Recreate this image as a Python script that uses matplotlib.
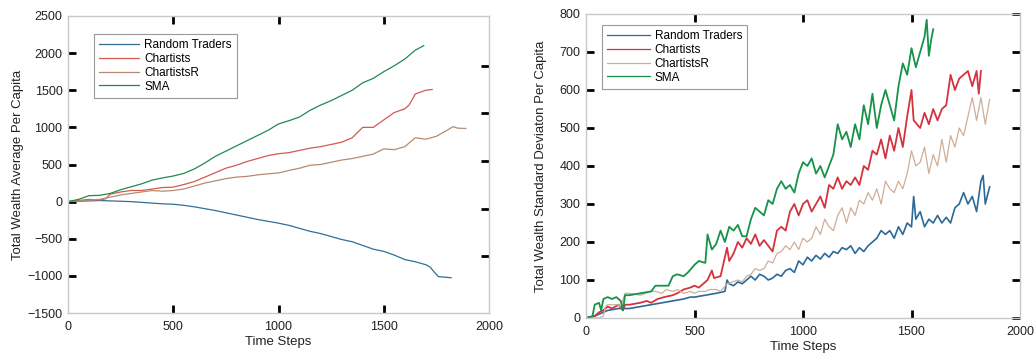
import matplotlib
matplotlib.use("Agg")
import matplotlib.pyplot as plt

plt.rcParams['font.family'] = ['Liberation Sans', 'DejaVu Sans']

# ---------------- data: left panel (average wealth) ----------------
sma_avg_x = [0, 50, 100, 150, 200, 250, 300, 350, 400, 450, 500, 550, 600, 650, 700, 750, 800, 850, 900, 950,
             1000, 1050, 1100, 1150, 1200, 1250, 1300, 1350, 1400, 1450, 1500, 1550, 1600, 1650, 1690]
sma_avg_y = [0, 30, 80, 85, 110, 160, 200, 240, 290, 320, 345, 380, 440, 520, 610, 680, 750, 820, 890, 960,
             1046, 1090, 1140, 1230, 1300, 1360, 1430, 1500, 1600, 1660, 1750, 1830, 1920, 2040, 2100]

chart_avg_x = [0, 100, 150, 180, 200, 250, 300, 350, 400, 450, 500, 550, 600, 650, 700, 750, 800, 850, 900, 950,
               1000, 1050, 1100, 1150, 1200, 1250, 1300, 1350, 1400, 1450, 1500, 1550, 1600, 1620, 1650, 1680, 1700, 1730]
chart_avg_y = [0, 30, 20, 40, 100, 130, 150, 150, 170, 190, 195, 230, 270, 330, 390, 450, 490, 540, 580, 620,
               645, 660, 690, 720, 740, 770, 800, 860, 1000, 1000, 1100, 1200, 1250, 1300, 1450, 1480, 1500, 1510]

chartr_avg_x = [0, 100, 150, 200, 250, 300, 350, 400, 450, 500, 550, 600, 650, 700, 750, 800, 850, 900, 950,
                1000, 1050, 1100, 1150, 1200, 1250, 1300, 1350, 1400, 1450, 1500, 1550, 1600, 1650, 1700, 1750,
                1800, 1830, 1850, 1890]
chartr_avg_y = [0, 20, 30, 60, 90, 110, 130, 150, 140, 150, 170, 210, 250, 280, 310, 330, 340, 360, 375,
                386, 420, 450, 490, 500, 530, 560, 580, 610, 640, 710, 700, 740, 860, 840, 880,
                960, 1010, 990, 985]

rand_avg_x = [0, 50, 100, 150, 200, 250, 300, 350, 400, 450, 500, 550, 600, 650, 700, 750, 800, 850, 900, 950,
              1000, 1050, 1100, 1150, 1200, 1250, 1300, 1350, 1400, 1450, 1500, 1550, 1600, 1650, 1700, 1720,
              1740, 1760, 1800, 1820]
rand_avg_y = [0, 5, 10, 15, 10, 5, 0, -10, -20, -30, -35, -50, -70, -95, -120, -150, -180, -210, -240, -265,
              -290, -320, -360, -400, -430, -470, -510, -540, -590, -640, -670, -720, -780, -810, -850, -880,
              -950, -1010, -1020, -1025]

# ---------------- data: right panel (standard deviation) ----------------
sma_sd_x = [0, 30, 40, 60, 70, 80, 100, 120, 140, 160, 170, 180, 200, 250, 300, 320, 350, 380, 400, 420,
            450, 470, 500, 520, 550, 560, 580, 600, 620, 640, 660, 680, 700, 720, 740, 760, 780, 800, 820, 840,
            860, 880, 900, 920, 940, 960, 980, 1000, 1020, 1040, 1060, 1080, 1100, 1120, 1140, 1160, 1180, 1200,
            1220, 1240, 1260, 1280, 1300, 1320, 1340, 1360, 1380, 1400, 1420, 1440, 1460, 1480, 1500, 1520,
            1540, 1560, 1570, 1580, 1590, 1600]
sma_sd_y = [0, 5, 35, 40, 20, 50, 55, 50, 55, 45, 20, 60, 60, 65, 70, 85, 85, 85, 110, 115,
            110, 120, 140, 150, 145, 220, 180, 195, 230, 200, 240, 230, 245, 215, 215, 260, 290, 280, 270, 310,
            300, 340, 360, 340, 350, 330, 380, 410, 400, 420, 380, 400, 370, 400, 430, 510, 470, 490,
            450, 510, 470, 560, 510, 590, 500, 560, 600, 560, 520, 610, 670, 640, 710, 660,
            700, 740, 785, 690, 730, 760]

chart_sd_x = [0, 40, 60, 80, 100, 120, 150, 170, 180, 200, 250, 280, 300, 330, 360, 400, 420, 450, 480, 500,
              520, 540, 560, 580, 590, 620, 640, 650, 660, 680, 700, 720, 740, 760, 780, 800, 820, 840, 860, 880,
              900, 920, 940, 960, 980, 1000, 1020, 1040, 1060, 1080, 1100, 1120, 1140, 1160, 1180, 1200, 1220,
              1240, 1260, 1280, 1300, 1320, 1340, 1360, 1380, 1400, 1420, 1440, 1460, 1480, 1500, 1510, 1540,
              1560, 1580, 1600, 1620, 1640, 1660, 1680, 1700, 1720, 1740, 1760, 1780, 1800, 1810, 1820]
chart_sd_y = [0, 5, 15, 20, 30, 25, 35, 20, 35, 35, 40, 45, 40, 50, 55, 60, 65, 75, 80, 85,
              80, 90, 100, 125, 105, 110, 160, 185, 150, 170, 200, 185, 210, 195, 220, 190, 205, 190, 175, 230,
              240, 230, 280, 300, 270, 300, 310, 280, 300, 320, 290, 350, 340, 370, 340, 360, 350,
              370, 350, 400, 390, 440, 430, 470, 420, 480, 440, 500, 450, 530, 600, 520, 500,
              540, 510, 550, 520, 550, 560, 640, 600, 630, 640, 650, 610, 650, 590, 650]

chartr_sd_x = [0, 60, 80, 90, 100, 150, 160, 180, 200, 250, 300, 320, 350, 370, 400, 420, 450, 480, 500, 520,
               550, 570, 600, 620, 650, 700, 720, 740, 760, 780, 800, 820, 840, 860, 880, 900, 920, 940, 960, 980,
               1000, 1020, 1040, 1060, 1080, 1100, 1120, 1140, 1160, 1180, 1200, 1220, 1240, 1260, 1280, 1300,
               1320, 1340, 1360, 1380, 1400, 1420, 1440, 1460, 1480, 1500, 1520, 1540, 1560, 1580, 1600, 1620,
               1640, 1660, 1680, 1700, 1720, 1740, 1760, 1780, 1800, 1820, 1840, 1860]
chartr_sd_y = [0, 0, 5, 30, 35, 35, 30, 65, 65, 60, 70, 70, 65, 75, 70, 75, 65, 70, 65, 70,
               70, 75, 75, 70, 90, 100, 95, 110, 115, 130, 125, 130, 150, 145, 170, 175, 190, 180, 200, 180,
               210, 200, 210, 240, 220, 260, 240, 230, 270, 290, 250, 290, 270, 310, 300, 330,
               310, 340, 300, 360, 340, 330, 360, 340, 380, 440, 400, 410, 450, 380, 430, 400,
               470, 410, 480, 450, 500, 480, 530, 580, 520, 580, 510, 575]

rand_sd_x = [0, 40, 80, 100, 150, 200, 250, 300, 350, 400, 450, 480, 500, 550, 600, 640, 650, 660, 680, 700,
             720, 740, 760, 780, 800, 820, 840, 860, 880, 900, 920, 940, 960, 980, 1000, 1020, 1040, 1060, 1080,
             1100, 1120, 1140, 1160, 1180, 1200, 1220, 1240, 1260, 1280, 1300, 1320, 1340, 1360, 1380, 1400,
             1420, 1440, 1460, 1480, 1500, 1510, 1520, 1540, 1560, 1580, 1600, 1620, 1640, 1660, 1680, 1700,
             1720, 1740, 1760, 1780, 1800, 1820, 1830, 1840, 1860]
rand_sd_y = [0, 5, 15, 20, 25, 25, 30, 35, 40, 45, 50, 55, 55, 60, 65, 70, 100, 90, 85, 95,
             90, 100, 110, 100, 115, 110, 100, 105, 115, 110, 125, 130, 120, 150, 140, 160, 150, 165, 155,
             170, 160, 175, 170, 185, 180, 190, 170, 185, 175, 190, 200, 210, 230, 220, 230,
             210, 240, 220, 250, 240, 320, 260, 280, 240, 260, 250, 270, 250, 265, 250, 290,
             300, 330, 300, 320, 280, 360, 375, 300, 345]

labels = ['Random Traders', 'Chartists', 'ChartistsR', 'SMA']
x_ticks = [0, 500, 1000, 1500, 2000]
left_yticks = [-1500, -1000, -500, 0, 500, 1000, 1500, 2000, 2500]
right_yticks = [0, 100, 200, 300, 400, 500, 600, 700, 800]
left_odd_right_ticks = [1830, 1190, 550, -95, -735]

# ---------------- styling ----------------
fig = plt.figure(figsize=(10.35, 3.56), dpi=100)
ax1 = fig.add_axes([68 / 1035, 1 - 313 / 356, (489 - 68) / 1035, (313 - 16) / 356])
ax2 = fig.add_axes([586 / 1035, 1 - 318 / 356, (1020 - 586) / 1035, (318 - 14) / 356])

left_colors = ['#2f6f98', '#d25a50', '#b88a70', '#1f8a52']
right_colors = ['#2b6a98', '#d3333f', '#cfae98', '#179249']


def style_axes(ax, yticks, xlim, ylim):
    ax.set_xlim(*xlim)
    ax.set_ylim(*ylim)
    ax.set_xticks(x_ticks)
    ax.set_yticks(yticks)
    for s in ax.spines.values():
        s.set_color('#c8c8c8')
        s.set_linewidth(1.0)
    ax.tick_params(axis='both', direction='in', length=6, width=2, color='black',
                   labelsize=9, labelcolor='#222222', top=True)
    ax.tick_params(axis='x', pad=6)
    ax.tick_params(axis='y', pad=4)
    for t in (ax.xaxis.get_major_ticks()[0], ax.xaxis.get_major_ticks()[-1]):
        t.tick1line.set_visible(False)
        t.tick2line.set_visible(False)
    for t in (ax.yaxis.get_major_ticks()[0], ax.yaxis.get_major_ticks()[-1]):
        t.tick1line.set_visible(False)
        t.tick2line.set_visible(False)
    ax.set_xlabel('Time Steps', fontsize=9.5, color='#222222', labelpad=2)


# left panel
ax1.plot(rand_avg_x, rand_avg_y, color=left_colors[0], lw=0.9, label=labels[0])
ax1.plot(chart_avg_x, chart_avg_y, color=left_colors[1], lw=0.9, label=labels[1])
ax1.plot(chartr_avg_x, chartr_avg_y, color=left_colors[2], lw=0.9, label=labels[2])
ax1.plot(sma_avg_x, sma_avg_y, color=left_colors[3], lw=0.9, label=labels[3])
style_axes(ax1, left_yticks, (0, 2000), (-1500, 2500))
ax1.tick_params(axis='y', right=False)
ax1.set_ylabel('Total Wealth Average Per Capita', fontsize=9.5, color='#222222', labelpad=2)
sec = ax1.secondary_yaxis('right')
sec.set_yticks(left_odd_right_ticks)
sec.tick_params(direction='in', length=6, width=2, color='black', labelright=False)
sec.spines['right'].set_visible(False)

leg1 = ax1.legend(loc='upper left', bbox_to_anchor=(94 / 1035, 1 - 34 / 356),
                  bbox_transform=fig.transFigure, borderaxespad=0, fontsize=8.5,
                  handlelength=3.4, handletextpad=0.4, labelspacing=0.15, borderpad=0.45,
                  fancybox=False, framealpha=1)
leg1.get_frame().set_edgecolor('#9a9a9a')
leg1.get_frame().set_linewidth(0.8)

# right panel
ax2.plot(rand_sd_x, rand_sd_y, color=right_colors[0], lw=1.2, label=labels[0])
ax2.plot(chart_sd_x, chart_sd_y, color=right_colors[1], lw=1.3, label=labels[1])
ax2.plot(chartr_sd_x, chartr_sd_y, color=right_colors[2], lw=0.9, label=labels[2])
ax2.plot(sma_sd_x, sma_sd_y, color=right_colors[3], lw=1.3, label=labels[3])
style_axes(ax2, right_yticks, (0, 2000), (0, 800))
ax2.tick_params(axis='y', right=True)
ax2.set_ylabel('Total Wealth Standard Deviaton Per Capita', fontsize=9.5, color='#222222', labelpad=9)

leg2 = ax2.legend(loc='upper left', bbox_to_anchor=(602 / 1035, 1 - 25 / 356),
                  bbox_transform=fig.transFigure, borderaxespad=0, fontsize=8.5,
                  handlelength=3.6, handletextpad=0.4, labelspacing=0.15, borderpad=0.45,
                  fancybox=False, framealpha=1)
leg2.get_frame().set_edgecolor('#9a9a9a')
leg2.get_frame().set_linewidth(0.8)
for h in leg2.get_lines():
    h.set_linewidth(0.9)

fig.savefig('out.png', dpi=100, facecolor='white')
